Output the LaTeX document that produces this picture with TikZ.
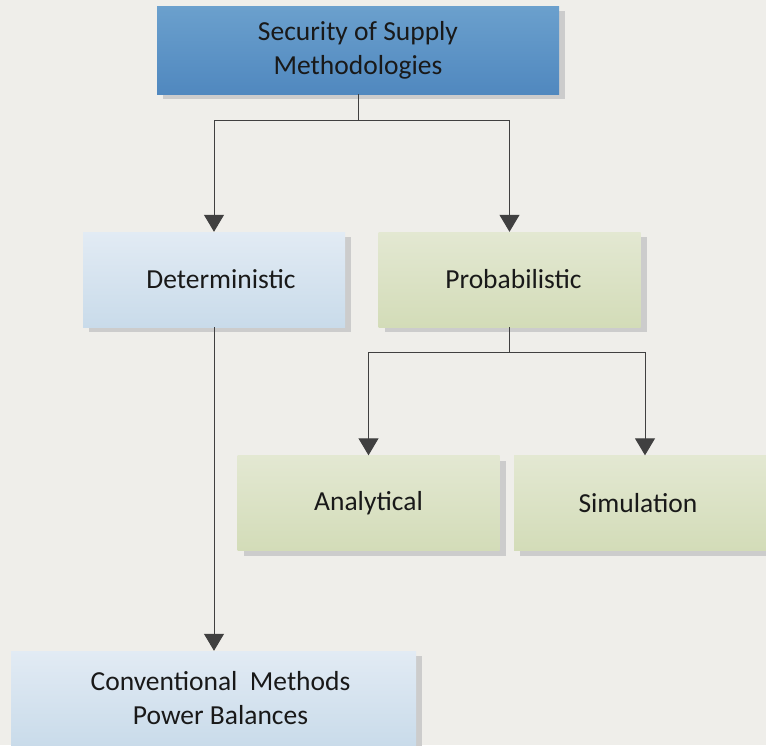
\documentclass[tikz,border=0pt]{standalone}
\usepackage{fontspec}
\setmainfont{Carlito}
\usetikzlibrary{arrows.meta,shadows}

\definecolor{paper}{HTML}{EFEEEA}
\definecolor{linegray}{HTML}{404040}
\definecolor{headtop}{HTML}{6BA0CD}
\definecolor{headbot}{HTML}{5088BF}
\definecolor{bluetop}{HTML}{E2EBF4}
\definecolor{bluebot}{HTML}{C9DBEA}
\definecolor{greentop}{HTML}{E3E8D2}
\definecolor{greenbot}{HTML}{D3DCB8}

\begin{document}
\begin{tikzpicture}[x=1pt,y=-1pt,
    box/.style={rectangle, inner sep=0pt, align=center, text=black!90,
        font=\fontsize{27.5}{34}\selectfont,
        minimum width=262pt, minimum height=95pt,
        drop shadow={shadow xshift=6pt, shadow yshift=-5pt, fill=black!20, opacity=1}},
    headbox/.style={box, top color=headtop, bottom color=headbot,
        minimum width=402pt, minimum height=88pt},
    bluebox/.style={box, top color=bluetop, bottom color=bluebot},
    greenbox/.style={box, top color=greentop, bottom color=greenbot},
    link/.style={draw=linegray, line width=1pt},
    arrowlink/.style={link, -{Triangle[width=20pt,length=17pt]}}
    ]
    \fill [paper] (0,0) rectangle (766,745);
    \useasboundingbox (0,0) rectangle (766,745);

    \node [headbox] (sos) at (358,50) {Security of Supply\\Methodologies};

    \node [bluebox] (det) at (214,279.5) {\hspace*{14pt}Deterministic};
    \node [greenbox] (prob) at (509.5,279.5) {\hspace*{8pt}Probabilistic};

    \node [greenbox] (ana) at (368.5,503) {Analytical};
    \node [greenbox] (sim) at (645,503) {Simulation\hspace*{14pt}};

    \node [bluebox, minimum width=405pt] (conv) at (213.5,698.5)
        {\hspace*{14pt}Conventional\ \ Methods\\\hspace*{14pt}Power Balances};

    \coordinate (fork1) at (358,120);
    \coordinate (fork2) at (509.5,352);

    \draw [link] (sos) -- (fork1);
    \draw [arrowlink] (fork1) -| (det.north);
    \draw [arrowlink] (fork1) -| (prob.north);

    \draw [link] (prob) -- (fork2);
    \draw [arrowlink] (fork2) -| (ana.north);
    \draw [arrowlink] (fork2) -| (sim.north);

    \draw [arrowlink] (det.south) -- (det.south |- conv.north);
\end{tikzpicture}
\end{document}
